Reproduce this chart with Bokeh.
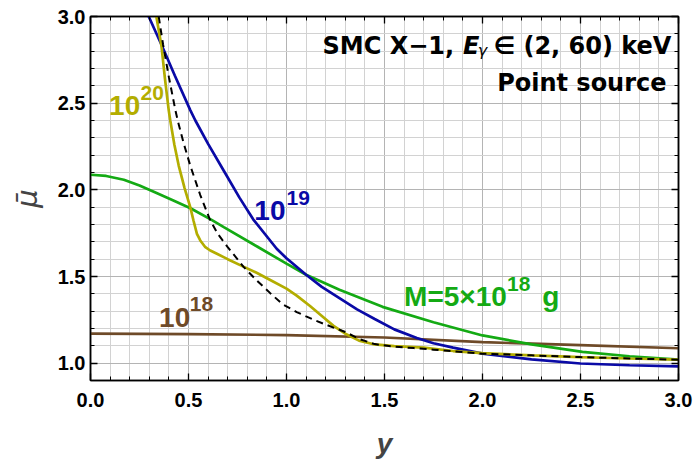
from bokeh.plotting import figure
from bokeh.models import (Range1d, FixedTicker, LinearAxis, Label, PrintfTickFormatter,
                          CustomLabelingPolicy)
from bokeh.embed import file_html
from bokeh.resources import INLINE

# ---------------- data ----------------
# M = 1e20 g (olive)
x_m20 = [0.336, 0.362, 0.38, 0.399, 0.407, 0.428, 0.45, 0.48, 0.509, 0.526, 0.543, 0.56,
         0.586, 0.611, 0.645, 0.70, 0.78, 0.85, 0.917, 1.0, 1.052, 1.12, 1.188, 1.24,
         1.30, 1.37, 1.45, 1.55, 1.70, 1.85, 2.0, 2.25, 2.5, 2.75, 3.0]
y_m20 = [3.0, 2.83, 2.64, 2.46, 2.40, 2.26, 2.14, 2.01, 1.90, 1.82, 1.746, 1.708,
         1.669, 1.65, 1.631, 1.60, 1.557, 1.52, 1.48, 1.43, 1.39, 1.33, 1.265, 1.215,
         1.17, 1.13, 1.108, 1.098, 1.09, 1.07, 1.058, 1.045, 1.035, 1.027, 1.02]

# M = 1e19 g (blue)
x_m19 = [0.297, 0.365, 0.43, 0.509, 0.535, 0.60, 0.68, 0.76, 0.83, 0.95, 1.0, 1.10,
         1.18, 1.27, 1.36, 1.45, 1.55, 1.665, 1.75, 1.85, 2.0, 2.25, 2.5, 2.75, 3.0]
y_m19 = [3.0, 2.83, 2.66, 2.46, 2.40, 2.265, 2.11, 1.955, 1.83, 1.66, 1.605, 1.51,
         1.44, 1.375, 1.31, 1.255, 1.195, 1.145, 1.115, 1.09, 1.055, 1.022, 0.998,
         0.988, 0.981]

# M = 5e18 g (green)
x_m5e18 = [0.0, 0.08, 0.17, 0.25, 0.34, 0.42, 0.51, 0.62, 0.68, 0.85, 1.0, 1.10, 1.27,
           1.49, 1.75, 2.0, 2.25, 2.51, 2.75, 3.0]
y_m5e18 = [2.087, 2.08, 2.058, 2.025, 1.98, 1.94, 1.894, 1.825, 1.785, 1.673, 1.574,
           1.51, 1.423, 1.325, 1.236, 1.16, 1.108, 1.065, 1.04, 1.02]

# M = 1e18 g (brown)
x_m18 = [0.0, 0.5, 1.0, 1.5, 2.0, 2.5, 3.0]
y_m18 = [1.17, 1.168, 1.162, 1.148, 1.121, 1.104, 1.086]

# dashed reference curve
x_dash = [0.348, 0.37, 0.40, 0.433, 0.445, 0.475, 0.509, 0.56, 0.611, 0.65, 0.70, 0.78,
          0.85, 0.917, 0.98, 1.052, 1.10, 1.15, 1.24, 1.30, 1.37, 1.45, 1.55, 1.65,
          1.75, 2.0, 2.25, 2.5, 2.75, 3.0]
y_dash = [3.0, 2.84, 2.65, 2.46, 2.40, 2.27, 2.14, 1.97, 1.823, 1.745, 1.67, 1.557,
          1.475, 1.404, 1.34, 1.295, 1.27, 1.245, 1.205, 1.18, 1.14, 1.11, 1.095, 1.087,
          1.078, 1.055, 1.045, 1.035, 1.027, 1.02]

x_major = [0.0, 0.5, 1.0, 1.5, 2.0, 2.5, 3.0]
x_minor = [i / 10 for i in range(0, 31)]
y_major = [1.0, 1.5, 2.0, 2.5, 3.0]
y_minor = [i / 10 for i in range(9, 31)]

C_OLIVE = "#b3ad00"
C_BLUE = "#0a0aa6"
C_GREEN = "#14aa14"
C_BROWN = "#6e4a28"

TICK_FONT = "Liberation Sans"
ANN_FONT = "DejaVu Sans"

p = figure(width=696, height=461, output_backend="svg", toolbar_location=None,
           x_range=Range1d(0, 3.0), y_range=Range1d(0.9, 3.0),
           min_border_left=90, min_border_right=17, min_border_top=16, min_border_bottom=81)
p.background_fill_color = "white"
p.border_fill_color = "white"
p.outline_line_color = "black"
p.outline_line_width = 1.5

xt = FixedTicker(ticks=x_major, minor_ticks=x_minor)
yt = FixedTicker(ticks=y_major, minor_ticks=y_minor)
fmt = PrintfTickFormatter(format="%.1f")

p.xaxis.ticker = xt
p.yaxis.ticker = yt
p.xaxis.formatter = fmt
p.yaxis.formatter = fmt
p.xgrid.ticker = xt
p.ygrid.ticker = yt
for g in (p.xgrid, p.ygrid):
    g.grid_line_color = "#b4b4b4"
    g.grid_line_width = 1
    g.minor_grid_line_color = "#d2d2d2"
    g.minor_grid_line_width = 1

no_labels = CustomLabelingPolicy(
    code="const arr = [...indices]; for (const i of arr) { indices.unset(i) } return indices")


def style_axis(ax, show_labels):
    ax.axis_line_color = "black"
    ax.axis_line_width = 1.5
    ax.major_tick_line_color = "black"
    ax.minor_tick_line_color = "black"
    ax.major_tick_line_width = 1.3
    ax.minor_tick_line_width = 1.0
    ax.major_tick_in = 7
    ax.major_tick_out = 0
    ax.minor_tick_in = 4
    ax.minor_tick_out = 0
    if show_labels:
        ax.major_label_text_font = TICK_FONT
        ax.major_label_text_font_style = "bold"
        ax.major_label_text_font_size = "20px"
        ax.major_label_text_color = "black"
    else:
        ax.major_label_policy = no_labels
        ax.major_label_standoff = 0
        ax.axis_label = None


style_axis(p.xaxis[0], True)
style_axis(p.yaxis[0], True)
p.xaxis[0].major_label_standoff = 12
p.yaxis[0].major_label_standoff = 5

p.xaxis[0].axis_label = "y"
p.xaxis[0].axis_label_text_font = TICK_FONT
p.xaxis[0].axis_label_text_font_style = "bold italic"
p.xaxis[0].axis_label_text_font_size = "28px"
p.xaxis[0].axis_label_standoff = 18

p.yaxis[0].axis_label = "\u03bc\u0304"
p.yaxis[0].axis_label_text_font = ANN_FONT
p.yaxis[0].axis_label_text_font_style = "italic"
p.yaxis[0].axis_label_text_font_size = "29px"
p.yaxis[0].axis_label_standoff = 11

top_ax = LinearAxis(ticker=xt, formatter=fmt)
right_ax = LinearAxis(ticker=yt, formatter=fmt)
style_axis(top_ax, False)
style_axis(right_ax, False)
p.add_layout(top_ax, "above")
p.add_layout(right_ax, "right")

# curves
p.line(x_m18, y_m18, line_color=C_BROWN, line_width=2.7)
p.line(x_m5e18, y_m5e18, line_color=C_GREEN, line_width=2.7)
p.line(x_m19, y_m19, line_color=C_BLUE, line_width=2.7)
p.line(x_m20, y_m20, line_color=C_OLIVE, line_width=2.7)
p.line(x_dash, y_dash, line_color="black", line_width=2, line_dash="7 5")

DY = 0.055  # baseline correction


def lab(x, y, text, color, size, font=TICK_FONT, style="bold", align="left"):
    p.add_layout(Label(x=x, y=y + DY, text=text, text_color=color, text_font=font,
                       text_font_style=style, text_font_size=size,
                       text_align=align, text_baseline="alphabetic"))


# curve labels
lab(0.095, 2.429, "10", C_OLIVE, "28px")
lab(0.255, 2.506, "20", C_OLIVE, "21px")
lab(0.836, 1.823, "10", C_BLUE, "28px")
lab(1.000, 1.900, "19", C_BLUE, "21px")
lab(0.350, 1.2075, "10", C_BROWN, "28px")
lab(0.507, 1.2865, "18", C_BROWN, "21px")
lab(1.600, 1.327, "M=5\u00d710", C_GREEN, "28px")
lab(2.125, 1.402, "18", C_GREEN, "21px")
lab(2.305, 1.327, "g", C_GREEN, "28px")

# title annotations
lab(1.855, 2.775, "SMC X\u22121,", "black", "24px", font=ANN_FONT, align="right")
lab(1.900, 2.775, "E", "black", "24px", font=ANN_FONT, style="bold italic")
lab(1.976, 2.746, "\u03b3", "black", "16px", font=ANN_FONT, style="italic")
lab(2.964, 2.775, "\u2208 (2, 60) keV", "black", "24px", font=ANN_FONT, align="right")
lab(2.939, 2.563, "Point source", "black", "24px", font=ANN_FONT, align="right")

open("out.html", "w").write(file_html(p, INLINE))
